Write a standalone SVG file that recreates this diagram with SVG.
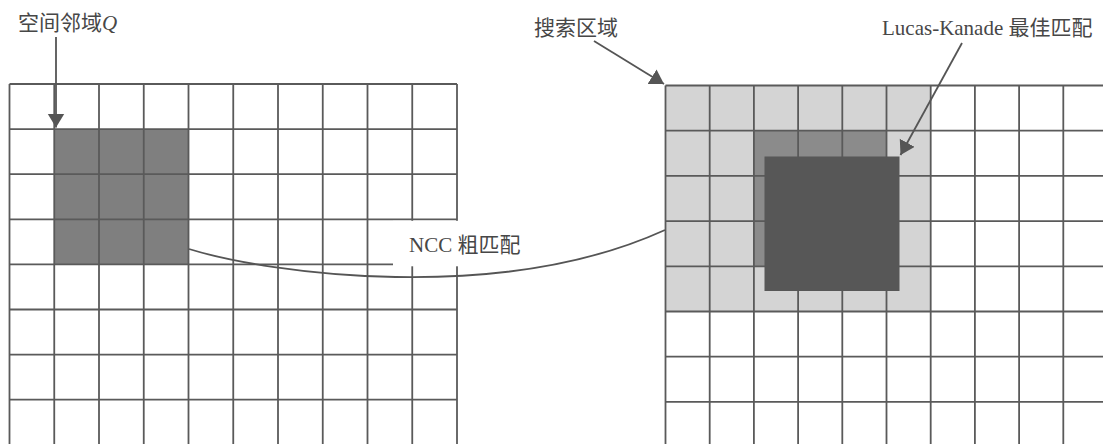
<svg xmlns="http://www.w3.org/2000/svg" width="1103" height="444" viewBox="0 0 1103 444">
<style>
.grid line{stroke:#5a5a5a;stroke-width:1.8}
.lbl{font-family:"Liberation Serif","Noto Sans CJK SC",serif;font-size:21px;fill:#474747}
.conn{fill:none;stroke:#555;stroke-width:1.8}
</style>
<defs>
<marker id="ah" markerUnits="userSpaceOnUse" markerWidth="16" markerHeight="18" refX="14" refY="8.5" orient="auto">
<path d="M0,0 L14,8.5 L0,17 Z" fill="#555"/>
</marker>
</defs>
<rect width="1103" height="444" fill="#fff"/>

<g id="left-grid">
<rect x="54.25" y="129.1" width="134.25" height="135.3" fill="#7f7f7f"/>
<g class="grid">
<line x1="9.5" y1="84" x2="9.5" y2="446"/>
<line x1="54.25" y1="84" x2="54.25" y2="446"/>
<line x1="99" y1="84" x2="99" y2="446"/>
<line x1="143.75" y1="84" x2="143.75" y2="446"/>
<line x1="188.5" y1="84" x2="188.5" y2="446"/>
<line x1="233.25" y1="84" x2="233.25" y2="446"/>
<line x1="278" y1="84" x2="278" y2="446"/>
<line x1="322.75" y1="84" x2="322.75" y2="446"/>
<line x1="367.5" y1="84" x2="367.5" y2="446"/>
<line x1="412.25" y1="84" x2="412.25" y2="446"/>
<line x1="457" y1="84" x2="457" y2="446"/>
<line x1="9.5" y1="84" x2="457" y2="84"/>
<line x1="9.5" y1="129.1" x2="457" y2="129.1"/>
<line x1="9.5" y1="174.2" x2="457" y2="174.2"/>
<line x1="9.5" y1="219.3" x2="457" y2="219.3"/>
<line x1="9.5" y1="264.4" x2="457" y2="264.4"/>
<line x1="9.5" y1="309.5" x2="457" y2="309.5"/>
<line x1="9.5" y1="354.6" x2="457" y2="354.6"/>
<line x1="9.5" y1="399.7" x2="457" y2="399.7"/>
<line x1="9.5" y1="444.8" x2="457" y2="444.8"/>
</g>
<rect x="393" y="220.8" width="68" height="45.5" fill="#fff"/>
</g>

<g id="right-grid">
<rect x="665.5" y="85.5" width="265.2" height="226" fill="#d4d4d4"/>
<rect x="753.9" y="130.7" width="132.6" height="135.6" fill="#8b8b8b"/>
<g class="grid">
<line x1="665.5" y1="85.5" x2="665.5" y2="446"/>
<line x1="709.7" y1="85.5" x2="709.7" y2="446"/>
<line x1="753.9" y1="85.5" x2="753.9" y2="446"/>
<line x1="798.1" y1="85.5" x2="798.1" y2="446"/>
<line x1="842.3" y1="85.5" x2="842.3" y2="446"/>
<line x1="886.5" y1="85.5" x2="886.5" y2="446"/>
<line x1="930.7" y1="85.5" x2="930.7" y2="446"/>
<line x1="974.9" y1="85.5" x2="974.9" y2="446"/>
<line x1="1019.1" y1="85.5" x2="1019.1" y2="446"/>
<line x1="1063.3" y1="85.5" x2="1063.3" y2="446"/>
<line x1="665.5" y1="85.5" x2="1110" y2="85.5"/>
<line x1="665.5" y1="130.7" x2="1110" y2="130.7"/>
<line x1="665.5" y1="175.9" x2="1110" y2="175.9"/>
<line x1="665.5" y1="221.1" x2="1110" y2="221.1"/>
<line x1="665.5" y1="266.3" x2="1110" y2="266.3"/>
<line x1="665.5" y1="311.5" x2="1110" y2="311.5"/>
<line x1="665.5" y1="356.7" x2="1110" y2="356.7"/>
<line x1="665.5" y1="401.9" x2="1110" y2="401.9"/>
<line x1="665.5" y1="447.1" x2="1110" y2="447.1"/>
</g>
<rect id="lk-match" x="764.5" y="156.5" width="135" height="134.5" fill="#575757"/>
</g>

<g id="label-q"><text class="lbl" x="18" y="30">空间邻域<tspan font-style="italic">Q</tspan></text></g>
<g id="label-search"><text class="lbl" x="534" y="35">搜索区域</text></g>
<g id="label-lk"><text class="lbl" x="882" y="35">Lucas-Kanade 最佳匹配</text></g>
<g id="label-ncc"><text class="lbl" x="409" y="252">NCC 粗匹配</text></g>

<g id="connectors">
<line class="conn" x1="56" y1="37" x2="56" y2="127.5" marker-end="url(#ah)"/>
<line class="conn" x1="594" y1="41" x2="664" y2="84" marker-end="url(#ah)"/>
<line class="conn" x1="962" y1="43" x2="900.5" y2="155" marker-end="url(#ah)"/>
<path class="conn" d="M189,249 C270,274 500,305 665,230"/>
</g>
</svg>
